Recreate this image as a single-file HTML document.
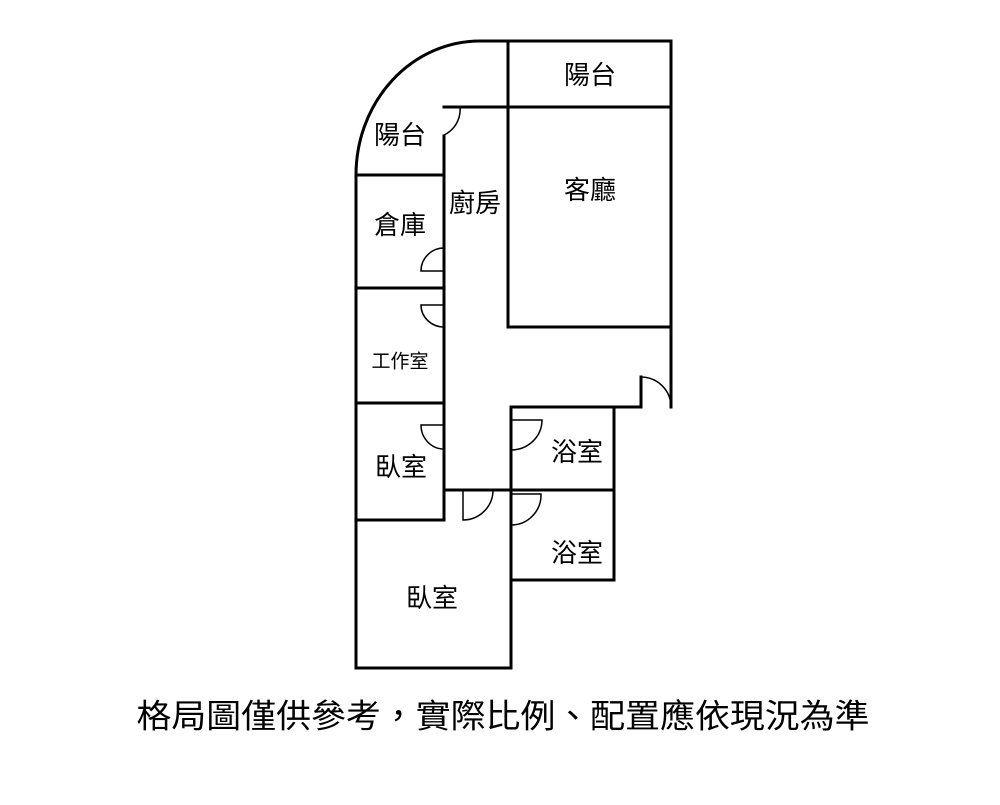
<!DOCTYPE html>
<html><head><meta charset="utf-8"><style>
body{margin:0;background:#fff;}
svg text{font-family:"Liberation Sans","Noto Sans CJK TC",sans-serif;fill:#000;text-anchor:middle;dominant-baseline:central;}
</style></head><body>
<svg width="1000" height="800" viewBox="0 0 1000 800" xmlns="http://www.w3.org/2000/svg">
<g fill="none" stroke="#000" stroke-width="3" stroke-linecap="square">
<path d="M356,668 L356,175 A124,134 0 0 1 480,41 L671,41 L671,407"/>
<path d="M508,41 L508,327 L671,327"/>
<path d="M444,107 L671,107"/>
<path d="M444,136 L444,520"/>
<path d="M356,175 L444,175"/>
<path d="M356,288 L444,288"/>
<path d="M356,403 L444,403"/>
<path d="M356,520 L444,520"/>
<path d="M356,668 L511,668 L511,407 L641,407 L641,377"/>
<path d="M444,490 L614,490"/>
<path d="M614,407 L614,580 L511,580"/>
</g>
<g fill="none" stroke="#000" stroke-width="1.5">
<path d="M444,107 L460,107 A28,28 0 0 1 444,135"/>
<path d="M444,248 A23,23 0 0 0 421,271 L444,271"/>
<path d="M444,305 L421,305 A23,22 0 0 0 444,327"/>
<path d="M444,425 L421,425 A23,24 0 0 0 444,449"/>
<path d="M463,490 L463,520 A30,30 0 0 0 493,490"/>
<path d="M511,420 L542,420 A31,30 0 0 1 511,450"/>
<path d="M511,494 L541,494 A30,30 0 0 1 511,525"/>
<path d="M641,377 A30,30 0 0 1 671,407"/>
</g>
<text x="590" y="75" font-size="26">陽台</text>
<text x="400" y="135" font-size="26">陽台</text>
<text x="475" y="203" font-size="26">廚房</text>
<text x="590" y="190" font-size="26">客廳</text>
<text x="400" y="225" font-size="26">倉庫</text>
<text x="400" y="362" font-size="19">工作室</text>
<text x="401" y="467" font-size="26">臥室</text>
<text x="577" y="452" font-size="26">浴室</text>
<text x="577" y="553" font-size="26">浴室</text>
<text x="432" y="598" font-size="26">臥室</text>
<text x="503" y="716" font-size="33" textLength="733" lengthAdjust="spacingAndGlyphs">格局圖僅供參考，實際比例、配置應依現況為準</text>
</svg>
</body></html>
